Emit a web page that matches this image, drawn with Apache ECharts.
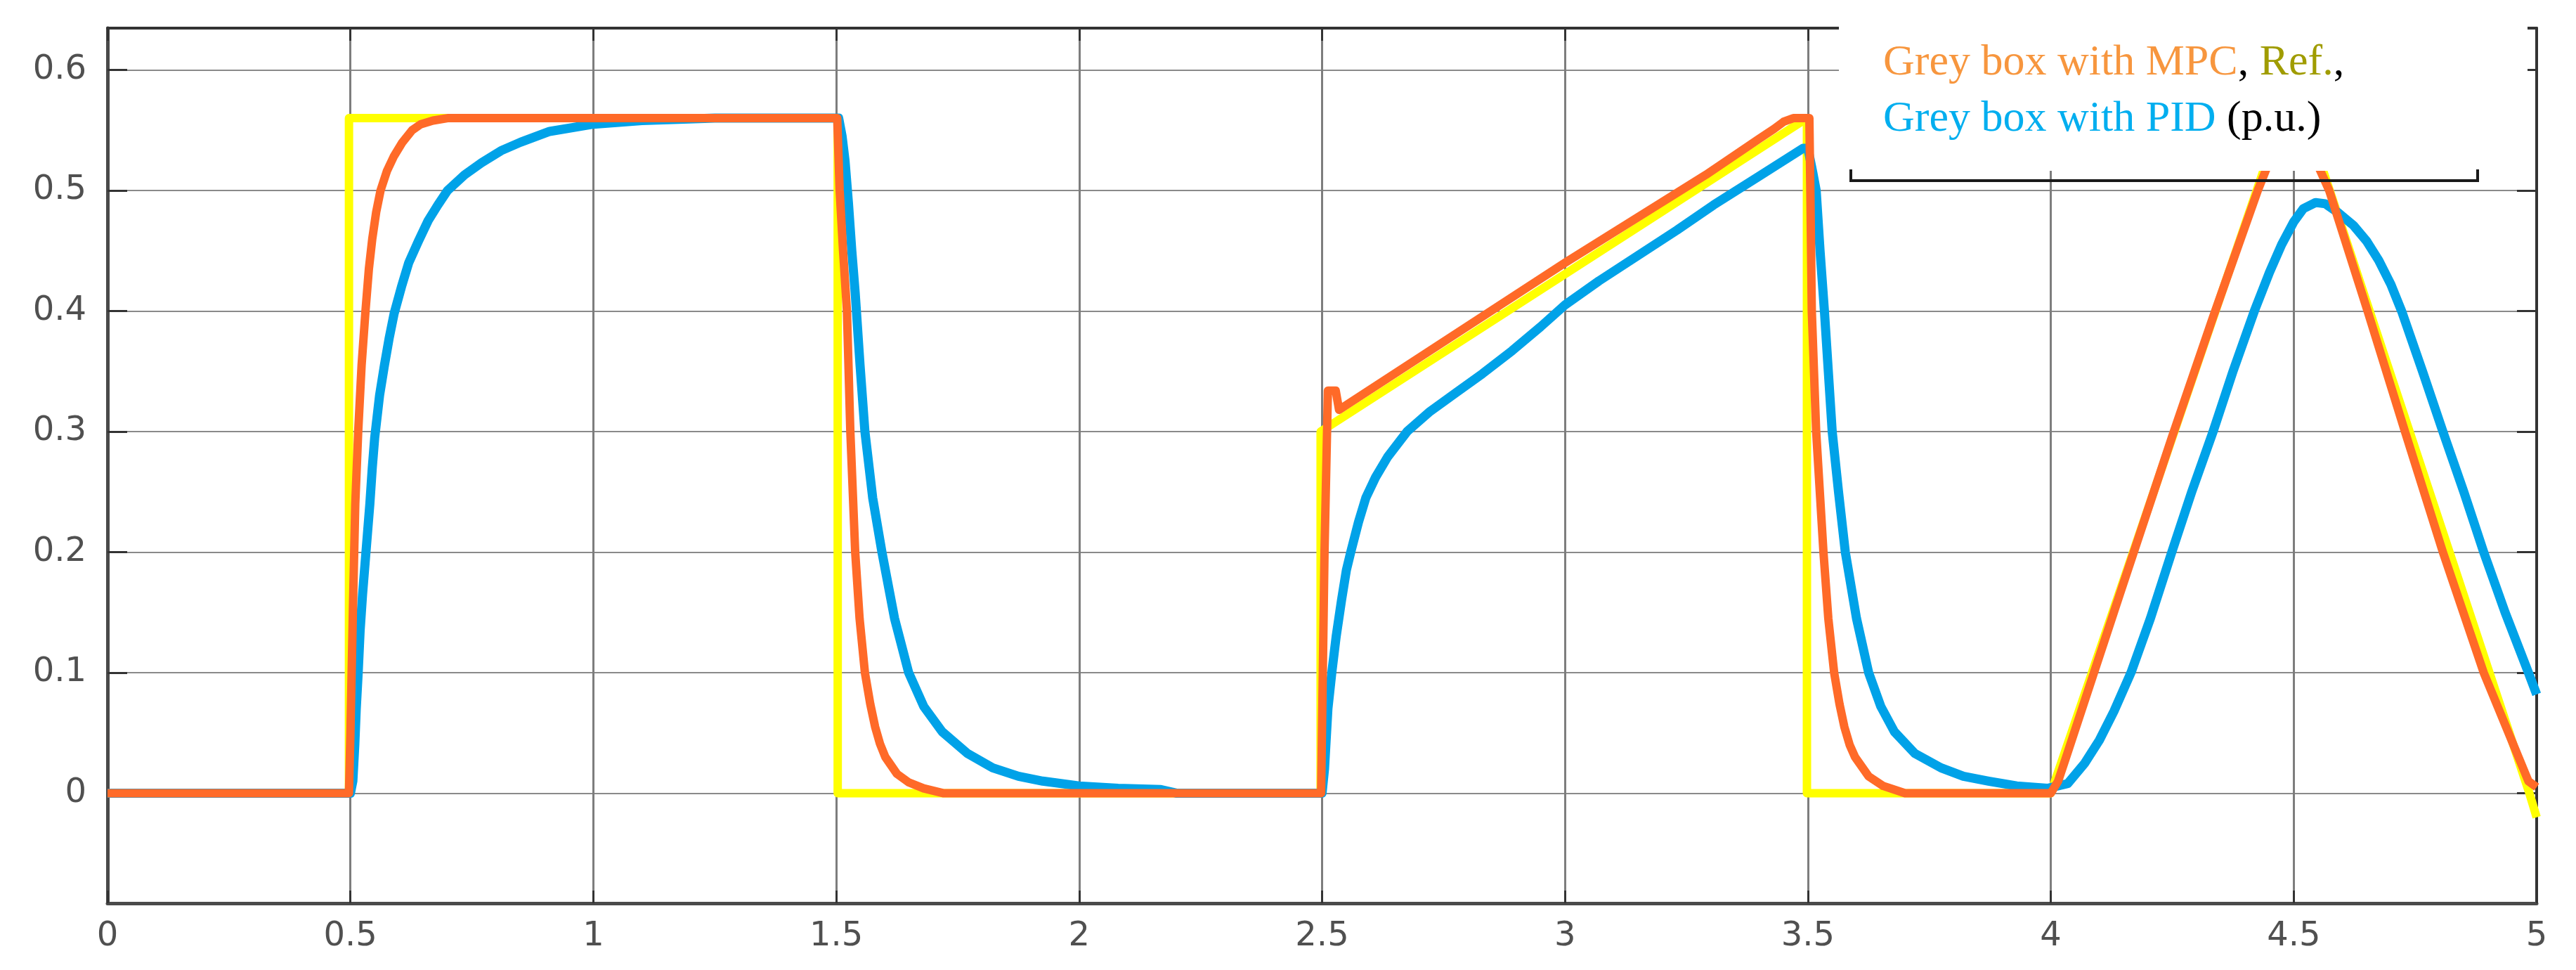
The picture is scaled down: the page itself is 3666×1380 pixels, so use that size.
<!DOCTYPE html>
<html>
<head>
<meta charset="utf-8">
<script src="https://cdn.jsdelivr.net/npm/echarts@6/dist/echarts.min.js"></script>
<style>
html,body{margin:0;padding:0;background:#fff;}
#chart{width:3666px;height:1380px;}
</style>
</head>
<body>
<div id="chart"></div>
<script>
// ---- data (time in s, values in p.u.) ----
const xTicks = [0, 0.5, 1, 1.5, 2, 2.5, 3, 3.5, 4, 4.5, 5];
const yTicks = [0, 0.1, 0.2, 0.3, 0.4, 0.5, 0.6];

// Reference
const refT = [0, 0.497, 0.497, 1.503, 1.503, 2.497, 2.497, 3.498, 3.498, 4.0, 4.5, 4.985, 5.0];
const refY = [0, 0, 0.56, 0.56, 0, 0, 0.3, 0.56, 0, 0, 0.59, 0, -0.02];

// Grey box with MPC
const mpcT = [0, 0.497, 0.5, 0.505, 0.51, 0.516, 0.523, 0.531, 0.538, 0.545, 0.553, 0.562, 0.575, 0.589, 0.607, 0.627, 0.645, 0.67, 0.7,
  1.502, 1.507, 1.514, 1.522, 1.529, 1.539, 1.548, 1.559, 1.57, 1.58, 1.59, 1.601, 1.625, 1.649, 1.68, 1.72,
  2.498, 2.505, 2.512, 2.528, 2.535, 2.55, 3.0, 3.29, 3.4, 3.43, 3.45, 3.47, 3.503,
  3.505, 3.508, 3.517, 3.532, 3.542, 3.554, 3.565, 3.575, 3.586, 3.597, 3.625, 3.655, 3.7,
  4.0, 4.015, 4.03, 4.142, 4.249, 4.334, 4.426, 4.495, 4.573, 4.652, 4.729, 4.807, 4.891, 4.983, 5.0];
const mpcY = [0, 0, 0.05, 0.15, 0.24, 0.3, 0.355, 0.4, 0.435, 0.46, 0.482, 0.5, 0.516, 0.528, 0.54, 0.55, 0.555, 0.558, 0.56,
  0.56, 0.5, 0.45, 0.4, 0.3, 0.2, 0.145, 0.1, 0.074, 0.055, 0.041, 0.03, 0.016, 0.009, 0.004, 0,
  0, 0.2, 0.334, 0.334, 0.318, 0.322, 0.44, 0.513, 0.543, 0.551, 0.557, 0.56, 0.56,
  0.5, 0.4, 0.3, 0.2, 0.145, 0.1, 0.074, 0.055, 0.04, 0.03, 0.014, 0.006, 0,
  0, 0.01, 0.028, 0.165, 0.295, 0.395, 0.5, 0.57, 0.5, 0.4, 0.3, 0.2, 0.1, 0.01, 0.005];

// Grey box with PID
const pidT = [0, 0.5, 0.505, 0.509, 0.512, 0.516, 0.52, 0.525, 0.53, 0.535, 0.54, 0.545, 0.55, 0.56, 0.57, 0.58, 0.59, 0.605, 0.62, 0.64, 0.66, 0.68, 0.7, 0.735, 0.77, 0.81, 0.85, 0.91, 1.0, 1.1, 1.25,
  1.505, 1.512, 1.518, 1.525, 1.532, 1.539, 1.549, 1.559, 1.575, 1.594, 1.62, 1.649, 1.68, 1.718, 1.77, 1.822, 1.875, 1.925, 2.0, 2.08, 2.168, 2.2,
  2.5, 2.505, 2.512, 2.52, 2.529, 2.54, 2.55, 2.559, 2.575, 2.59, 2.61, 2.635, 2.675, 2.72, 2.775, 2.83, 2.891, 2.95, 3.0, 3.07, 3.15, 3.23, 3.306, 3.4, 3.49,
  3.5, 3.51, 3.517, 3.525, 3.534, 3.542, 3.55, 3.563, 3.577, 3.6, 3.625, 3.65, 3.678, 3.72, 3.774, 3.82, 3.872, 3.93, 3.993,
  4.035, 4.07, 4.1, 4.13, 4.165, 4.205, 4.249, 4.29, 4.334, 4.375, 4.419, 4.45, 4.475, 4.5, 4.52, 4.545, 4.565, 4.59, 4.623, 4.65, 4.675, 4.7, 4.722, 4.765, 4.807, 4.85, 4.891, 4.935, 4.983, 5.0];
const pidY = [0, 0, 0.01, 0.04, 0.07, 0.1, 0.135, 0.165, 0.19, 0.215, 0.24, 0.27, 0.295, 0.33, 0.355, 0.378, 0.398, 0.42, 0.44, 0.458, 0.475, 0.488, 0.5, 0.513, 0.523, 0.533, 0.54, 0.549, 0.555, 0.558, 0.56,
  0.56, 0.545, 0.525, 0.49, 0.45, 0.415, 0.355, 0.3, 0.245, 0.2, 0.145, 0.1, 0.072, 0.051, 0.033, 0.021, 0.014, 0.01, 0.006, 0.004, 0.003, 0,
  0, 0.02, 0.07, 0.1, 0.13, 0.16, 0.185, 0.2, 0.225, 0.245, 0.262, 0.279, 0.3, 0.316, 0.332, 0.348, 0.367, 0.387, 0.405, 0.425, 0.446, 0.467, 0.488, 0.512, 0.535,
  0.535, 0.515, 0.5, 0.45, 0.4, 0.35, 0.3, 0.25, 0.2, 0.145, 0.1, 0.072, 0.051, 0.033, 0.021, 0.014, 0.01, 0.006, 0.004,
  0.008, 0.025, 0.044, 0.068, 0.1, 0.145, 0.2, 0.25, 0.3, 0.35, 0.4, 0.432, 0.455, 0.474, 0.485, 0.49, 0.489, 0.482, 0.471, 0.458, 0.442, 0.422, 0.4, 0.35, 0.3, 0.25, 0.2, 0.15, 0.1, 0.082];

const zip = (t, y) => t.map((v, i) => [v, y[i]]);

const tickFont = { color: '#505050', fontSize: 48, fontFamily: 'DejaVu Sans' };

const chart = echarts.init(document.getElementById('chart'), null, { renderer: 'canvas' });
chart.setOption({
  animation: false,
  backgroundColor: '#ffffff',
  grid: { left: 153, right: 56, top: 40, bottom: 95, containLabel: false },
  xAxis: [{
    type: 'value', min: 0, max: 5, interval: 0.5, position: 'bottom',
    axisLine: { show: true, onZero: false, lineStyle: { color: '#4a4a4a', width: 5 } },
    axisTick: { show: true, inside: true, length: 18, lineStyle: { color: '#333', width: 3 } },
    axisLabel: Object.assign({ margin: 24 }, tickFont),
    splitLine: { show: true, lineStyle: { color: '#7d7d7d', width: 3 } }
  }, {
    type: 'value', min: 0, max: 5, interval: 0.5, position: 'top',
    axisLine: { show: true, onZero: false, lineStyle: { color: '#333', width: 4 } },
    axisTick: { show: true, inside: true, length: 18, lineStyle: { color: '#333', width: 3 } },
    axisLabel: { show: false }, splitLine: { show: false }
  }],
  yAxis: [{
    type: 'value', min: -0.0913, max: 0.6347, position: 'left',
    axisLine: { show: true, onZero: false, lineStyle: { color: '#4a4a4a', width: 5 } },
    axisTick: { show: true, inside: true, length: 28, customValues: yTicks, lineStyle: { color: '#333', width: 3 } },
    axisLabel: Object.assign({ margin: 30, customValues: yTicks }, tickFont),
    splitLine: { show: true, lineStyle: { color: '#8a8a8a', width: 2 } }
  }, {
    type: 'value', min: -0.0913, max: 0.6347, position: 'right',
    axisLine: { show: true, onZero: false, lineStyle: { color: '#333', width: 4 } },
    axisTick: { show: true, inside: true, length: 28, customValues: yTicks, lineStyle: { color: '#333', width: 3 } },
    axisLabel: { show: false }, splitLine: { show: false }
  }],
  series: [
    { name: 'Ref.', type: 'line', data: zip(refT, refY), showSymbol: false, symbol: 'none', z: 3,
      lineStyle: { color: '#FFFF00', width: 12, join: 'round' } },
    { name: 'Grey box with PID', type: 'line', data: zip(pidT, pidY), showSymbol: false, symbol: 'none', z: 4,
      lineStyle: { color: '#00A2E8', width: 13, join: 'round' } },
    { name: 'Grey box with MPC', type: 'line', data: zip(mpcT, mpcY), showSymbol: false, symbol: 'none', z: 5,
      lineStyle: { color: '#FF6A28', width: 12, join: 'round' } }
  ],
  graphic: [
    { type: 'rect', z: 100, shape: { x: 2617, y: 0, width: 980, height: 243 }, style: { fill: '#ffffff' } },
    { type: 'polyline', z: 101, shape: { points: [[2634, 241], [2634, 257], [3526, 257], [3526, 241]] },
      style: { stroke: '#1a1a1a', lineWidth: 4, fill: null } },
    { type: 'text', z: 102, x: 2680, y: 90, style: {
        text: '{o|Grey box with MPC}{k|, }{r|Ref.}{k|,}',
        font: '62px "Liberation Serif"', verticalAlign: 'middle',
        rich: {
          o: { fill: '#F7963E', fontSize: 62, fontFamily: 'Liberation Serif' },
          k: { fill: '#000000', fontSize: 62, fontFamily: 'Liberation Serif' },
          r: { fill: '#A09C00', fontSize: 62, fontFamily: 'Liberation Serif' }
        } } },
    { type: 'text', z: 102, x: 2680, y: 170, style: {
        text: '{b|Grey box with PID}{k| (p.u.)}',
        font: '62px "Liberation Serif"', verticalAlign: 'middle',
        rich: {
          b: { fill: '#00AEEF', fontSize: 62, fontFamily: 'Liberation Serif' },
          k: { fill: '#000000', fontSize: 62, fontFamily: 'Liberation Serif' }
        } } }
  ]
});
</script>
</body>
</html>
